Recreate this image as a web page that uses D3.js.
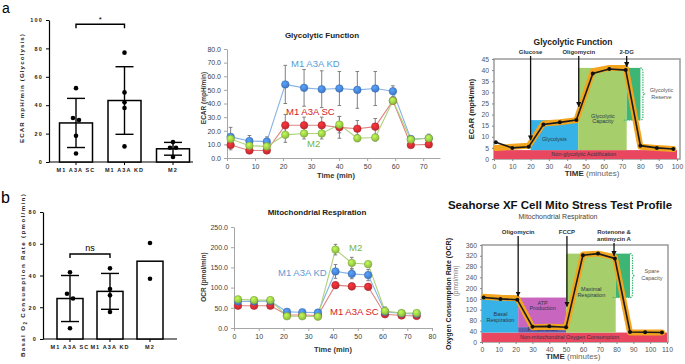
<!DOCTYPE html>
<html>
<head>
<meta charset="utf-8">
<script src="https://cdn.jsdelivr.net/npm/d3@7"></script>
<style>
  body { margin: 0; background: #fff; }
  svg { display: block; }
  text { font-family: "Liberation Sans", Arial, sans-serif; }
</style>
</head>
<body>
<script>
// ---- bar panels (a left, b left)
const groups = ['M1 A3A SC', 'M1 A3A KD', 'M2'];
const ecarMean = [27.5, 43.3, 9.3];
const ecarSd = [17.3, 23.8, 4.5];
const ecarPoints = [[52, 31, 29.5, 18.5, 6], [77, 49, 42, 38, 11], [14, 10, 10, 3.5]];
const ocrMean = [25.5, 30, 49];
const ocrSd = [14.5, 11.3, 0];
const ocrPoints = [[42, 28.5, 25.5, 6.8], [44.5, 31.5, 27.5, 17], [60.5, 38]];

// ---- seahorse time courses (a middle, b middle)
const series = ['M1 A3A KD', 'M1 A3A SC', 'M2'];
const glycoTime = [1.3, 8.0, 14.2, 20.8, 27.5, 33.8, 40.1, 46.5, 52.9, 59.2, 65.6, 72.0];
const glycoKD = [15.5, 12.5, 12, 54, 51.5, 50.5, 51, 50, 51, 49, 14, 14.5];
const glycoKDErr = [7, 4, 3.5, 14, 13.5, 13.5, 12.5, 13.5, 12.5, 4, 2, 3];
const glycoSC = [9.5, 5.5, 5.5, 24, 24, 24, 22.5, 21.5, 23, 42, 9.5, 10];
const glycoSCErr = [3.5, 2, 2, 8, 6, 6, 8, 6, 6, 2, 1, 1];
const glycoM2 = [14, 9, 8.5, 17, 18, 18, 24.5, 14.5, 15, 42, 13.5, 14.5];
const glycoM2Err = [3, 3, 3, 5.5, 4, 4, 6, 2.5, 2.5, 2, 1, 2];

const mitoTime = [1.6, 8.1, 14.7, 21.4, 27.6, 33.9, 41, 47.6, 54.2, 61, 67.7, 73.8];
const mitoKD = [66, 66, 67, 40, 39, 38, 140, 134, 131, 40, 36, 35];
const mitoKDErr = [6, 6, 6, 5, 5, 5, 17, 12, 14, 12, 4, 4];
const mitoSC = [55, 55, 55, 32, 32, 31, 106, 103, 102, 34, 31, 30];
const mitoSCErr = [4, 4, 4, 3, 3, 3, 8, 8, 8, 4, 3, 3];
const mitoM2 = [71, 69, 69, 29, 29, 28, 194, 161, 158, 42, 37, 37];
const mitoM2Err = [5, 5, 5, 4, 4, 4, 13, 14, 6, 8, 5, 4];

// ---- reference profiles (a right, b right)
const gfTime = [1, 10, 19, 27, 36, 45, 54, 63, 72, 80, 89, 98];
const gfMeasured = [7.5, 5, 5.5, 15.5, 16.5, 17.5, 38.5, 40.5, 40, 6, 5, 4.5];
const gfIdeal = [5, 5.5, 6, 16, 16.5, 17.5, 39.5, 41, 41, 5.5, 5, 4.5];
const gfZones = [
  {name: 'Non-glycolytic Acidification', x0: 0, x1: 100, y0: 0, y1: 4, tx: 49, ty: [1.2]},
  {name: 'Glycolysis', x0: 20, x1: 46, y0: 4, y1: 17.5, tx: 33, ty: [8.3]},
  {name: 'Glycolytic|Capacity', x0: 46, x1: 72.5, y0: 4, y1: 41, tx: 59.5, ty: [18.5, 16]},
  {name: 'reserve', x0: 72.5, x1: 80, y0: 17.5, y1: 41}
];
const gfDrugs = [{name: ['Glucose'], t: 20, tip: 8.5}, {name: ['Oligomycin'], t: 46.3, tip: 23.5}, {name: ['2-DG'], t: 72.5, tip: 41.5}];

const msTime = [1, 11, 21, 30, 40, 50, 60, 69, 79, 88, 97, 107];
const msMeasured = [165, 160, 157, 57, 58, 55, 322, 328, 310, 37, 36, 35];
const msIdeal = [168, 164, 162, 55, 57, 55, 325, 328, 315, 35, 35, 35];
const msZones = [
  {name: 'Non-mitochondrial Oxygen Consumption', x0: 0, x1: 110, y0: 0, y1: 35, tx: 52, ty: [12]},
  {name: 'Basal|Respiration', x0: 0, x1: 21.5, y0: 35, y1: 160, tx: 11, ty: [98, 76]},
  {name: 'ATP|Production', x0: 21.5, x1: 50, y0: 55, y1: 165, tx: 36, ty: [138, 118]},
  {name: 'Proton Leak', x0: 21.5, x1: 50, y0: 35, y1: 55, tx: 36, ty: [40]},
  {name: 'Maximal|Respiration', x0: 50, x1: 79.5, y0: 35, y1: 328, tx: 65, ty: [188, 168]},
  {name: 'reserve', x0: 79.5, x1: 88, y0: 165, y1: 328}
];
const msDrugs = [{name: ['Oligomycin'], t: 21.5, tip: 170}, {name: ['FCCP'], t: 50.5, tip: 132}, {name: ['Rotenone &', 'antimycin A'], t: 78.5, tip: 320}];

const seriesColor = {
  'M1 A3A KD': {dot: '#3f77c5', line: '#86b3e6', text: '#5b9bd5'},
  'M1 A3A SC': {dot: '#c1272d', line: '#df8482', text: '#d42027'},
  'M2': {dot: '#8cb83f', line: '#aed17a', text: '#76b243'}
};
const zoneColor = {
  'Non-glycolytic Acidification': '#e9475f', 'Glycolysis': '#37b2e7', 'Glycolytic|Capacity': '#a6cf6b',
  'Non-mitochondrial Oxygen Consumption': '#e9475f', 'Basal|Respiration': '#37b2e7', 'ATP|Production': '#c866bf',
  'Proton Leak': '#5c60ae', 'Maximal|Respiration': '#a6cf6b', 'reserve': '#3db675'
};

const svg = d3.select('body').append('svg').attr('width', 685).attr('height', 364);

const defs = svg.append('defs');
defs.append('marker').attr('id', 'arrow').attr('viewBox', '0 0 10 10').attr('refX', 9).attr('refY', 5)
  .attr('markerWidth', 4).attr('markerHeight', 4).attr('orient', 'auto')
  .append('path').attr('d', 'M0,0L10,5L0,10z').attr('fill', '#111');
Object.keys(seriesColor).forEach(function(k, i) {
  const gr = defs.append('radialGradient').attr('id', 'shine' + i).attr('cx', '40%').attr('cy', '35%').attr('r', '65%');
  gr.append('stop').attr('offset', '0%').attr('stop-color', d3.color(seriesColor[k].dot).brighter(0.9));
  gr.append('stop').attr('offset', '100%').attr('stop-color', seriesColor[k].dot);
  seriesColor[k].grad = 'url(#shine' + i + ')';
});

svg.append('text').attr('x', 2).attr('y', 13).attr('font-size', 14).text('a');
svg.append('text').attr('x', 1).attr('y', 203).attr('font-size', 16).text('b');

// ---------- bar + dots panel
function barPanel(cfg) {
  const g = svg.append('g');
  const x = d3.scalePoint().domain(groups).range(cfg.xr);
  const y = d3.scaleLinear().domain([0, cfg.max]).range(cfg.yr);

  const ya = g.append('g').attr('transform', 'translate(' + cfg.ax0 + ',0)')
    .call(d3.axisLeft(y).tickValues(d3.range(0, cfg.max + 1, 20)).tickSize(3).tickSizeOuter(0).tickFormat(d3.format('d')));
  ya.select('.domain').attr('stroke-width', 1.2);
  ya.selectAll('text').attr('font-size', 5.5).attr('font-weight', 'bold').attr('letter-spacing', 1.2).attr('fill', '#222');

  g.append('line').attr('x1', cfg.ax0).attr('x2', cfg.ax1).attr('y1', y(0)).attr('y2', y(0)).attr('stroke', '#000').attr('stroke-width', 1.2);
  g.selectAll('.xt').data(groups).enter().append('line')
    .attr('x1', d => x(d)).attr('x2', d => x(d)).attr('y1', y(0)).attr('y2', y(0) + 3).attr('stroke', '#000');
  g.selectAll('.xl').data(groups).enter().append('text')
    .attr('x', d => x(d)).attr('y', y(0) + 10).attr('text-anchor', 'middle')
    .attr('font-size', 5.5).attr('font-weight', 'bold').attr('letter-spacing', 1.1).attr('fill', '#222')
    .text(d => d);

  g.selectAll('.bar').data(groups).enter().append('rect')
    .attr('x', d => x(d) - cfg.barW / 2).attr('width', cfg.barW)
    .attr('y', (d, i) => y(cfg.mean[i])).attr('height', (d, i) => y(0) - y(cfg.mean[i]))
    .attr('fill', '#fff').attr('stroke', '#000').attr('stroke-width', 1.5);

  groups.forEach(function(k, i) {
    const sd = cfg.sd[i];
    if (!sd) return;
    const cx = x(k);
    const lo = y(cfg.mean[i] - sd), hi = y(cfg.mean[i] + sd);
    g.append('line').attr('x1', cx).attr('x2', cx).attr('y1', lo).attr('y2', hi).attr('stroke', '#000').attr('stroke-width', 1.4);
    [lo, hi].forEach(function(v) {
      g.append('line').attr('x1', cx - 9).attr('x2', cx + 9).attr('y1', v).attr('y2', v).attr('stroke', '#000').attr('stroke-width', 1.4);
    });
    // simple spread for dots sitting on top of each other
    const pts = cfg.points[i].slice().sort((a, b) => b - a);
    let side = 0;
    pts.forEach(function(v, j) {
      let dx = 0;
      const close = (j > 0 && Math.abs(y(v) - y(pts[j - 1])) < 5) || (j < pts.length - 1 && Math.abs(y(v) - y(pts[j + 1])) < 5);
      if (close) { dx = side % 2 === 0 ? -3 : 3; side++; }
      g.append('circle').attr('cx', cx + dx).attr('cy', y(v)).attr('r', 2.3).attr('fill', '#000');
    });
  });
  if (!cfg.sd[2]) {
    cfg.points[2].forEach(v => g.append('circle').attr('cx', x(groups[2])).attr('cy', y(v)).attr('r', 2.3).attr('fill', '#000'));
  }

  const by = y(cfg.sig.at);
  const x0 = x(groups[0]), x1 = x(groups[1]);
  g.append('path').attr('d', 'M' + x0 + ',' + (by + 4) + 'V' + by + 'H' + x1 + 'V' + (by + 4))
    .attr('fill', 'none').attr('stroke', '#000').attr('stroke-width', 1.4);
  g.append('text').attr('x', (x0 + x1) / 2).attr('y', by - (cfg.sig.label === '*' ? 2 : 3)).attr('text-anchor', 'middle')
    .attr('font-size', cfg.sig.label === '*' ? 8 : 9).text(cfg.sig.label);

  const yl = g.append('text').attr('transform', 'translate(' + cfg.labX + ',' + cfg.labY + ') rotate(-90)')
    .attr('text-anchor', 'middle').attr('font-size', 6.2).attr('font-weight', 'bold').attr('letter-spacing', cfg.labSpacing).attr('fill', '#222');
  cfg.label.forEach(function(part) {
    const t = yl.append('tspan').text(part.t);
    if (part.sub) t.attr('font-size', 4.5).attr('dy', 2);
    if (part.up) t.attr('dy', -2);
  });
}

barPanel({
  xr: [76, 173], max: 100, yr: [162, 20], ax0: 49, ax1: 193, barW: 33,
  mean: ecarMean, sd: ecarSd, points: ecarPoints, sig: {at: 97, label: '*'},
  labX: 24, labY: 88, labSpacing: 1.1, label: [{t: 'ECAR  mpH/min (Glycolysis)'}]
});
barPanel({
  xr: [70, 150], max: 80, yr: [339, 212], ax0: 43, ax1: 177, barW: 26,
  mean: ocrMean, sd: ocrSd, points: ocrPoints, sig: {at: 53.5, label: 'ns'},
  labX: 25, labY: 275, labSpacing: 1.35,
  label: [{t: 'Basal O'}, {t: '2', sub: true}, {t: ' Consumption Rate (pmol/min)', up: true}]
});

// ---------- seahorse time-course panel
function linePanel(cfg) {
  const g = svg.append('g');
  const x = d3.scaleLinear().domain(cfg.xd).range(cfg.xr);
  const y = d3.scaleLinear().domain(cfg.yd).range(cfg.yr);

  const ya = g.append('g').attr('transform', 'translate(' + cfg.xr[0] + ',0)')
    .call(d3.axisLeft(y).tickValues(d3.range(0, cfg.yd[1] + 1, cfg.ystep)).tickSize(3).tickSizeOuter(0).tickFormat(d3.format('.1f')));
  const xa = g.append('g').attr('transform', 'translate(0,' + cfg.yr[0] + ')')
    .call(d3.axisBottom(x).tickValues(d3.range(0, cfg.xmax + 1, 10)).tickSize(3).tickSizeOuter(0));
  [ya, xa].forEach(function(a) {
    a.selectAll('path, line').attr('stroke', '#a6a6a6');
    a.selectAll('text').attr('font-family', 'Lato, "Open Sans", sans-serif').attr('font-size', 7).attr('fill', '#404040');
  });

  g.append('text').attr('x', cfg.title[1]).attr('y', cfg.title[2]).attr('text-anchor', 'middle')
    .attr('font-family', 'Lato, sans-serif').attr('font-weight', 'bold').attr('font-size', 8).attr('fill', '#222').text(cfg.title[0]);
  g.append('text').attr('x', cfg.xlab[0]).attr('y', cfg.xlab[1]).attr('text-anchor', 'middle')
    .attr('font-family', 'Lato, sans-serif').attr('font-weight', 'bold').attr('font-size', 7.5).attr('fill', '#333').text('Time (min)');
  g.append('text').attr('transform', 'translate(' + cfg.ylab[0] + ',' + cfg.ylab[1] + ') rotate(-90)').attr('text-anchor', 'middle')
    .attr('font-family', 'Lato, sans-serif').attr('font-weight', 'bold').attr('font-size', 6.5).attr('fill', '#333').text(cfg.ylab[2]);

  const line = d3.line().x((d, i) => x(cfg.time[i])).y(d => y(d));
  cfg.order.forEach(function(name) {
    const s = cfg.data[name];
    const c = seriesColor[name];
    g.append('path').datum(s.v).attr('d', line).attr('fill', 'none').attr('stroke', c.line).attr('stroke-width', 1.1);
  });
  cfg.order.forEach(function(name) {
    const s = cfg.data[name];
    s.v.forEach(function(v, i) {
      const cx = x(cfg.time[i]);
      const top = y(v + s.e[i]), bot = y(v - s.e[i]);
      g.append('path').attr('d', 'M' + (cx - 1.8) + ',' + top + 'H' + (cx + 1.8) + 'M' + cx + ',' + top + 'V' + bot + 'M' + (cx - 1.8) + ',' + bot + 'H' + (cx + 1.8))
        .attr('stroke', '#808080').attr('stroke-width', 1).attr('fill', 'none');
    });
  });
  cfg.order.forEach(function(name) {
    const s = cfg.data[name];
    const c = seriesColor[name];
    g.selectAll(null).data(s.v).enter().append('circle')
      .attr('cx', (d, i) => x(cfg.time[i])).attr('cy', d => y(d)).attr('r', 3.8)
      .attr('fill', c.grad).attr('stroke', d3.color(c.dot).darker(0.4)).attr('stroke-width', 0.5);
  });
  cfg.labels.forEach(function(l) {
    g.append('text').attr('x', l[1]).attr('y', l[2]).attr('font-family', 'Lato, "Open Sans", sans-serif')
      .attr('font-size', 9.5).attr('fill', seriesColor[l[0]].text).text(l[0]);
  });
}

linePanel({
  xd: [0, 76], xr: [227, 440], xmax: 70, yd: [0, 80], yr: [158, 49], ystep: 10, time: glycoTime,
  data: {'M1 A3A KD': {v: glycoKD, e: glycoKDErr}, 'M1 A3A SC': {v: glycoSC, e: glycoSCErr}, 'M2': {v: glycoM2, e: glycoM2Err}},
  order: ['M1 A3A KD', 'M1 A3A SC', 'M2'],
  title: ['Glycolytic Function', 322, 38], xlab: [336, 178], ylab: [206, 98, 'ECAR (mpH/min)'],
  labels: [['M1 A3A KD', 291, 67], ['M1 A3A SC', 286, 115], ['M2', 307, 147]]
});
linePanel({
  xd: [0, 80], xr: [234, 432], xmax: 80, yd: [0, 250], yr: [328, 227], ystep: 50, time: mitoTime,
  data: {'M1 A3A KD': {v: mitoKD, e: mitoKDErr}, 'M1 A3A SC': {v: mitoSC, e: mitoSCErr}, 'M2': {v: mitoM2, e: mitoM2Err}},
  order: ['M1 A3A SC', 'M1 A3A KD', 'M2'],
  title: ['Mitochondrial Respiration', 317, 215], xlab: [333, 352], ylab: [206, 277, 'OCR (pmol/min)'],
  labels: [['M2', 349, 251], ['M1 A3A KD', 278, 276], ['M1 A3A SC', 330, 315]]
});

// ---------- Agilent reference profiles
function bracePath(xl, ya, yb, w) {
  const m = (ya + yb) / 2, h = w / 2;
  return 'M' + xl + ',' + ya + 'Q' + (xl + h) + ',' + ya + ' ' + (xl + h) + ',' + (ya + 4) +
    'V' + (m - 3) + 'Q' + (xl + h) + ',' + m + ' ' + (xl + w) + ',' + m +
    'Q' + (xl + h) + ',' + m + ' ' + (xl + h) + ',' + (m + 3) +
    'V' + (yb - 4) + 'Q' + (xl + h) + ',' + yb + ' ' + xl + ',' + yb;
}

function profilePanel(cfg) {
  const g = svg.append('g');
  const x = d3.scaleLinear().domain(cfg.xd).range(cfg.xr);
  const y = d3.scaleLinear().domain(cfg.yd).range(cfg.yr);
  const font = '"Open Sans", "Liberation Sans", sans-serif';

  g.append('rect').attr('x', cfg.xr[0]).attr('y', cfg.yr[1]).attr('width', cfg.frameR - cfg.xr[0]).attr('height', cfg.yr[0] - cfg.yr[1])
    .attr('fill', '#fff').attr('stroke', '#9a9a9a').attr('stroke-width', 1.5);

  cfg.zones.forEach(function(z) {
    g.append('rect').attr('x', x(z.x0)).attr('width', x(z.x1) - x(z.x0)).attr('y', y(z.y1)).attr('height', y(z.y0) - y(z.y1))
      .attr('fill', zoneColor[z.name]);
  });
  const res = cfg.zones.find(z => z.name === 'reserve');
  g.append('path').attr('d', bracePath(x(res.x1), y(res.y1), y(res.y0), 5)).attr('fill', 'none')
    .attr('stroke', zoneColor.reserve).attr('stroke-width', 1.2).attr('stroke-dasharray', '1.5,1');
  g.append('line').attr('x1', x(res.x0) - 3).attr('x2', x(res.x1)).attr('y1', y(res.y0)).attr('y2', y(res.y0))
    .attr('stroke', zoneColor.reserve).attr('stroke-dasharray', '1.5,1');
  cfg.reserveText.forEach(function(t, i) {
    g.append('text').attr('x', x(cfg.reserveAt[0])).attr('y', y(cfg.reserveAt[1]) + i * 7).attr('text-anchor', 'middle')
      .attr('font-family', font).attr('font-size', 5.5).attr('fill', '#555').text(t);
  });

  cfg.zones.forEach(function(z) {
    if (!z.ty) return;
    z.name.split('|').forEach(function(t, i) {
      g.append('text').attr('x', x(z.tx)).attr('y', y(z.ty[i])).attr('text-anchor', 'middle')
        .attr('font-family', font).attr('font-size', 5.5).attr('fill', '#2c3648').text(t);
    });
  });

  const line = d3.line().x((d, i) => x(cfg.time[i])).y(d => y(d));
  g.append('path').datum(cfg.ideal).attr('d', line).attr('fill', 'none').attr('stroke', '#f3a51f')
    .attr('stroke-width', 6).attr('stroke-linejoin', 'round').attr('stroke-linecap', 'round');
  g.append('path').datum(cfg.measured).attr('d', line).attr('fill', 'none').attr('stroke', '#1a1a1a').attr('stroke-width', 1.6);
  g.selectAll(null).data(cfg.measured).enter().append('circle')
    .attr('cx', (d, i) => x(cfg.time[i])).attr('cy', d => y(d)).attr('r', 2).attr('fill', '#111');

  const ya = g.append('g').attr('transform', 'translate(' + cfg.xr[0] + ',0)')
    .call(d3.axisLeft(y).tickValues(d3.range(0, cfg.yd[1] + 1, cfg.ystep)).tickSize(2).tickSizeOuter(0));
  const xa = g.append('g').attr('transform', 'translate(0,' + cfg.yr[0] + ')')
    .call(d3.axisBottom(x).tickValues(d3.range(0, cfg.xd[1] + 1, 10)).tickSize(2).tickSizeOuter(0));
  [ya, xa].forEach(function(a) {
    a.select('.domain').remove();
    a.selectAll('line').attr('stroke', '#888');
    a.selectAll('text').attr('font-family', font).attr('font-size', 6.8).attr('fill', '#555');
  });

  cfg.drugs.forEach(function(d) {
    d.name.forEach(function(t, i) {
      g.append('text').attr('x', x(d.t)).attr('y', cfg.drugY + i * 7).attr('text-anchor', 'middle')
        .attr('font-family', font).attr('font-weight', 600).attr('font-size', 6).attr('fill', '#333').text(t);
    });
    g.append('line').attr('x1', x(d.t)).attr('x2', x(d.t)).attr('y1', cfg.drugY + 2 + (d.name.length - 1) * 7).attr('y2', y(d.tip))
      .attr('stroke', '#111').attr('stroke-width', 1.3).attr('marker-end', 'url(#arrow)');
  });

  const xl = g.append('text').attr('x', cfg.xlab[0]).attr('y', cfg.xlab[1]).attr('text-anchor', 'middle')
    .attr('font-family', font).attr('font-size', 8).attr('fill', '#333');
  xl.append('tspan').attr('font-weight', 'bold').text('TIME ');
  xl.append('tspan').attr('fill', '#666').text('(minutes)');

  cfg.ylab.forEach(function(l) {
    g.append('text').attr('transform', 'translate(' + l.x + ',' + l.y + ') rotate(-90)').attr('text-anchor', 'middle')
      .attr('font-family', font).attr('font-size', l.size).attr('font-weight', l.bold ? 'bold' : 'normal')
      .attr('fill', l.bold ? '#222' : '#777').text(l.t);
  });
  cfg.titles.forEach(function(t) {
    g.append('text').attr('x', t.x).attr('y', t.y).attr('text-anchor', 'middle').attr('font-family', font)
      .attr('font-size', t.size).attr('font-weight', t.weight).attr('fill', t.fill).text(t.t);
  });
}

profilePanel({
  xd: [0, 100], xr: [494, 677], frameR: 680, yd: [0, 45], yr: [159, 59], ystep: 5,
  time: gfTime, measured: gfMeasured, ideal: gfIdeal, zones: gfZones, drugs: gfDrugs, drugY: 54,
  reserveText: ['Glycolytic', 'Reserve'], reserveAt: [91.5, 30],
  xlab: [592, 176],
  ylab: [{t: 'ECAR (mpH/min)', x: 474, y: 109, size: 7.5, bold: true}],
  titles: [{t: 'Glycolytic Function', x: 573, y: 45, size: 8.5, weight: 'bold', fill: '#222'}]
});
profilePanel({
  xd: [0, 110], xr: [482, 667], frameR: 668, yd: [0, 360], yr: [342, 245], ystep: 40,
  time: msTime, measured: msMeasured, ideal: msIdeal, zones: msZones, drugs: msDrugs, drugY: 234,
  reserveText: ['Spare', 'Capacity'], reserveAt: [101, 256],
  xlab: [573, 359],
  ylab: [{t: 'Oxygen Consumption Rate (OCR)', x: 451, y: 294, size: 7, bold: true},
         {t: '(pmol/min)', x: 458, y: 281, size: 6.5, bold: false}],
  titles: [{t: 'Seahorse XF Cell Mito Stress Test Profile', x: 560, y: 209, size: 11.5, weight: 'bold', fill: '#111'},
           {t: 'Mitochondrial Respiration', x: 558, y: 219, size: 7, weight: 'normal', fill: '#444'}]
});
</script>
</body>
</html>
